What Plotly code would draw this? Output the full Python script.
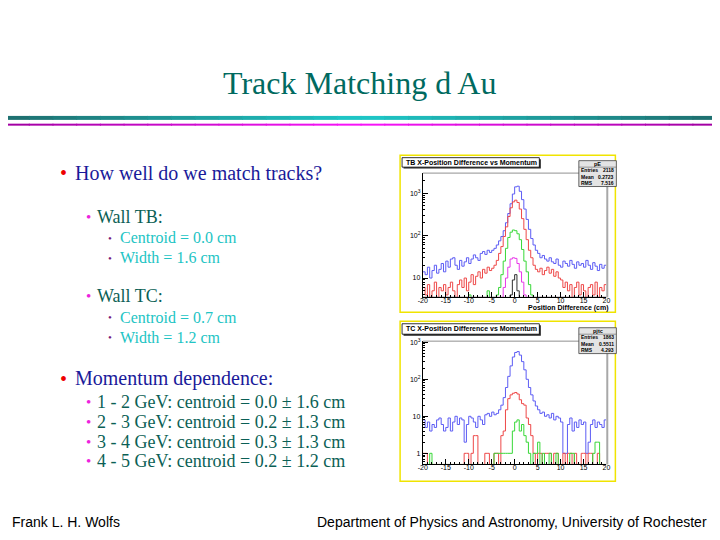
import numpy as np
import plotly.graph_objects as go

W, H = 720, 540
# the page body adds an 8 px margin, so reference pixels are shifted back by it
OX, OY = 8, 8
# larger annotations sit a few px inside their anchor point
TPAD = 4

# histogram binning (cm)
bin_lo = -20.0
bin_width = 0.5
n_bins = 80

# TB wall: counts per 0.5 cm bin, -20 .. 20 cm
tb_blue = [14, 12, 18, 10, 15, 20, 13, 16, 22, 14,
           25, 18, 28, 30, 20, 16, 26, 19, 24, 30,
           22, 28, 35, 30, 26, 38, 42, 36, 45, 40,
           45, 50, 60, 75, 95, 130, 200, 330, 560, 950,
           1400, 1450, 1100, 700, 420, 240, 140, 85, 60, 45,
           38, 30, 34, 28, 25, 30, 24, 22, 28, 20,
           18, 25, 22, 19, 26, 21, 17, 24, 20, 22,
           18, 26, 20, 16, 23, 19, 15, 21, 17, 20]
tb_red = [6, 4, 7, 2, 5, 8, 3, 6, 5, 7,
          4, 6, 8, 5, 3, 7, 9, 6, 10, 5,
          8, 12, 7, 11, 14, 10, 16, 13, 18, 15,
          17, 20, 26, 38, 55, 95, 160, 280, 450, 620,
          680, 600, 420, 250, 140, 80, 45, 30, 20, 16,
          14, 17, 12, 15, 18, 13, 16, 11, 14, 10,
          9, 6, 8, 5, 7, 3, 6, 8, 4, 7,
          5, 2, 6, 7, 4, 8, 3, 6, 5, 7]
tb_green = [0, 0, 0, 0, 0, 0, 0, 0, 0, 0,
            0, 0, 0, 0, 0, 0, 0, 0, 0, 0,
            4, 0, 0, 0, 0, 0, 0, 0, 5, 0,
            0, 2, 4, 6, 12, 25, 50, 90, 120, 135,
            130, 110, 80, 47, 25, 14, 7, 4, 2, 0,
            0, 0, 0, 0, 0, 0, 0, 0, 0, 0,
            0, 0, 0, 0, 0, 0, 0, 0, 0, 0,
            0, 0, 0, 0, 0, 0, 0, 0, 0, 0]
tb_magenta = [0] * 34 + [3, 6, 10, 18, 28, 30, 29, 22, 14, 8, 4, 2] + [0] * 34
tb_black = [0] * 38 + [4, 9, 12, 5, 2] + [0] * 37

# TC wall
tc_blue = [8, 5, 7, 4, 6, 5, 8, 9, 6, 4,
           5, 9, 4, 7, 10, 6, 9, 8, 2, 6,
           10, 9, 7, 5, 10, 8, 6, 11, 12, 10,
           13, 11, 12, 15, 20, 32, 60, 120, 230, 400,
           530, 560, 450, 300, 180, 100, 60, 38, 26, 19,
           15, 12, 13, 10, 11, 9, 12, 8, 10, 9,
           7, 1, 1, 6, 9, 4, 7, 5, 8, 6,
           7, 1, 2, 6, 8, 5, 7, 6, 5, 8]
tc_red = [1, 1, 0, 0, 0, 0, 0, 0, 0, 0,
          0, 0, 0, 0, 0, 0, 0, 0, 1, 1,
          0, 1, 3, 3, 0, 0, 0, 1, 1, 0,
          0, 1, 1, 0, 3, 4, 15, 30, 38, 42,
          44, 40, 28, 22, 20, 9, 6, 3, 1, 0,
          1, 1, 0, 1, 1, 1, 0, 1, 1, 0,
          0, 1, 0, 1, 1, 0, 1, 0, 0, 1,
          1, 0, 1, 1, 0, 0, 1, 0, 0, 0]
tc_green = [0, 0, 0, 1, 0, 0, 0, 0, 0, 0,
            0, 0, 0, 0, 0, 0, 0, 0, 0, 0,
            0, 0, 0, 0, 0, 0, 0, 0, 0, 0,
            0, 1, 1, 1, 1, 1, 1, 1, 1, 4,
            7, 8, 4, 6, 3, 2, 1, 0, 1, 1,
            2, 0, 1, 0, 0, 1, 0, 0, 1, 0,
            0, 0, 0, 0, 1, 1, 0, 0, 0, 0,
            0, 0, 0, 0, 1, 2, 2, 0, 0, 0]

tb_stats = ["pE", "2118", "0.2723", "7.516"]
tc_stats = ["pjtc", "1863", "0.5511", "4.293"]

x_tick_vals = [-20, -15, -10, -5, 0, 5, 10, 15, 20]
x_tick_text = ["-20", "-15", "-10", "-5", "0", "5", "10", "15", "20"]
tb_y_vals = [10, 100, 1000]
tb_y_text = ["10", "10<sup>2</sup>", "10<sup>3</sup>"]
tc_y_vals = [1, 10, 100, 1000]
tc_y_text = ["1", "10", "10<sup>2</sup>", "10<sup>3</sup>"]

bullets = [
    ("How well do we match tracks?", 1),
    ("Wall TB:", 2),
    ("Centroid = 0.0 cm", 3),
    ("Width = 1.6 cm", 3),
    ("Wall TC:", 2),
    ("Centroid = 0.7 cm", 3),
    ("Width = 1.2 cm", 3),
    ("Momentum dependence:", 1),
    ("1 - 2 GeV: centroid = 0.0 ± 1.6 cm", 2),
    ("2 - 3 GeV: centroid = 0.2 ± 1.3 cm", 2),
    ("3 - 4 GeV: centroid = 0.3 ± 1.3 cm", 2),
    ("4 - 5 GeV: centroid = 0.2 ± 1.2 cm", 2),
]
bullet_y = [171, 215, 236, 256, 295, 316, 336, 378, 401, 421, 441, 461]

SERIF = "Liberation Serif"
SANS = "Liberation Sans"
BLUE, RED, GREEN, MAGENTA, BLACK = "#5c5cf4", "#ee4848", "#38d838", "#e838e8", "#303030"


def fx(x):
    return (x - OX) / W


def fy(y):
    return 1 - (y - OY) / H


def step(counts, floor):
    c = np.maximum(np.asarray(counts, dtype=float), floor)
    return np.append(c, c[-1])


def text(s, x, y, size, color, family=SANS, anchor="left", pad=TPAD):
    shift = {"left": -pad, "right": pad, "center": -pad * 0.75}[anchor]
    return dict(text=s, x=fx(x + shift), y=fy(y), xref="paper", yref="paper", showarrow=False,
                xanchor=anchor, yanchor="middle", borderpad=0, borderwidth=0,
                font=dict(family=family, size=size, color=color))


def rect(x0, y0, x1, y1, **kw):
    return dict(type="rect", xref="paper", yref="paper", x0=fx(x0), x1=fx(x1),
                y0=fy(y1), y1=fy(y0), **kw)


edges = bin_lo + bin_width * np.arange(n_bins + 1)

fig = go.Figure()
tb_floor, tc_floor = 3.5, 0.5
for counts, col in [(tb_blue, BLUE), (tb_red, RED), (tb_green, GREEN),
                    (tb_magenta, MAGENTA), (tb_black, BLACK)]:
    fig.add_trace(go.Scatter(x=edges, y=step(counts, tb_floor), mode="lines",
                             line=dict(color=col, width=1, shape="hv"),
                             xaxis="x", yaxis="y", hoverinfo="skip", showlegend=False))
for counts, col in [(tc_blue, BLUE), (tc_red, RED), (tc_green, GREEN)]:
    fig.add_trace(go.Scatter(x=edges, y=step(counts, tc_floor), mode="lines",
                             line=dict(color=col, width=1, shape="hv"),
                             xaxis="x2", yaxis="y2", hoverinfo="skip", showlegend=False))

fx0, fx1 = 423, 609
frames = {"tb": (171, 296), "tc": (340, 464)}

axis_font = dict(family=SANS, size=7, color="black")
xcommon = dict(range=[-20, 20], tickvals=x_tick_vals, ticktext=x_tick_text,
               ticks="inside", ticklen=5, tickcolor="black", showline=True,
               linecolor="black", linewidth=1, showgrid=False, zeroline=False,
               tickfont=axis_font, fixedrange=True, ticklabelstandoff=-4,
               minor=dict(ticks="inside", ticklen=2.5, dtick=1, tickcolor="black"))
ycommon = dict(type="log", ticks="inside", ticklen=5, tickcolor="black",
               showline=True, linecolor="black", linewidth=1, showgrid=False,
               zeroline=False, tickfont=axis_font, fixedrange=True)

tb_minor = [m * 10 ** e for e in range(0, 4) for m in range(2, 10)]
tc_minor = [m * 10 ** e for e in range(-1, 4) for m in range(2, 10)]

fig.update_layout(
    width=W, height=H, margin=dict(l=0, r=0, t=0, b=0),
    paper_bgcolor="white", plot_bgcolor="white",
    xaxis=dict(domain=[fx(fx0), fx(fx1)], anchor="y", **xcommon),
    yaxis=dict(domain=[fy(296), fy(171)], anchor="x",
               range=[np.log10(tb_floor), 3.47], tickvals=tb_y_vals, ticktext=tb_y_text,
               minor=dict(ticks="inside", ticklen=2.5, tickvals=tb_minor, tickcolor="black"),
               **ycommon),
    xaxis2=dict(domain=[fx(fx0), fx(fx1)], anchor="y2", **xcommon),
    yaxis2=dict(domain=[fy(464), fy(340)], anchor="x2",
                range=[np.log10(tc_floor), 3.03], tickvals=tc_y_vals, ticktext=tc_y_text,
                minor=dict(ticks="inside", ticklen=2.5, tickvals=tc_minor, tickcolor="black"),
                **ycommon),
)

shapes = []
annots = []

# title rules: teal band with lighter middle, magenta below
nseg = 30
for i in range(nseg):
    t = abs((i + 0.5) / nseg - 0.5) * 2
    teal = "rgb(%d,%d,%d)" % (30, int(200 - 90 * t), int(200 - 90 * t))
    mag = "rgb(%d,%d,%d)" % (int(250 - 90 * t), int(20 * (1 - t)), int(250 - 90 * t))
    xa, xb = i * W / nseg, (i + 1) * W / nseg + 1
    shapes.append(rect(xa, 113.5, xb, 117.5, line=dict(width=0), fillcolor=teal))
    shapes.append(rect(xa, 121.3, xb, 123.3, line=dict(width=0), fillcolor=mag))

annots.append(text("Track Matching d Au", 362, 80, 32, "#006a60", SERIF, "center"))

# histogram panels
panels = [(153, 311, 155.5, 165, "TB X-Position Difference vs Momentum", 158.5, tb_stats),
          (320, 481, 322.5, 333, "TC X-Position Difference vs Momentum", 326.5, tc_stats)]
for (cy0, cy1, ty0, ty1, ttl, sy0, stats), key in zip(panels, ["tb", "tc"]):
    fy0, fy1 = frames[key]
    shapes.append(rect(400, cy0, 618, cy1, line=dict(color="#f0e400", width=1.5), layer="below"))
    # frame top and shaded right side
    shapes.append(dict(type="line", xref="paper", yref="paper", x0=fx(fx0), x1=fx(fx1),
                       y0=fy(fy0), y1=fy(fy0), line=dict(color="#909090", width=1)))
    shapes.append(dict(type="line", xref="paper", yref="paper", x0=fx(fx1 + 0.8), x1=fx(fx1 + 0.8),
                       y0=fy(fy1), y1=fy(fy0), line=dict(color="#a8a8a8", width=2)))
    # title box with shadow
    shapes.append(rect(403.5, ty0 + 1.5, 542.5, ty1 + 1.5, line=dict(width=0), fillcolor="#202020"))
    shapes.append(rect(402, ty0, 541, ty1, line=dict(color="black", width=0.8), fillcolor="white"))
    annots.append(text("<b>%s</b>" % ttl, 406, (ty0 + ty1) / 2, 7, "black", pad=0))
    # stats box
    sy1 = sy0 + 26
    shapes.append(rect(581, sy0, 619, sy1, line=dict(color="#404040", width=0.8), fillcolor="#e4e4e4"))
    shapes.append(dict(type="line", xref="paper", yref="paper", x0=fx(581), x1=fx(619),
                       y0=fy(sy0 + 6.5), y1=fy(sy0 + 6.5), line=dict(color="#606060", width=0.6)))
    annots.append(text("<b>%s</b>" % stats[0], 600, sy0 + 3.3, 5.5, "black", anchor="center", pad=0))
    for k, lab in enumerate(["Entries", "Mean", "RMS"]):
        yy = sy0 + 9.8 + 6.5 * k
        annots.append(text("<b>%s</b>" % lab, 583, yy, 5, "black", pad=0))
        annots.append(text("<b>%s</b>" % stats[k + 1], 617, yy, 5, "black", anchor="right", pad=0))

annots.append(text("<b>Position Difference (cm)</b>", 612, 306.5, 7, "black", anchor="right", pad=0))

# bullet text on the left
styles = {1: (62, 75, "#ee0000", 20, "#1a1a9a", 20),
          2: (87, 97, "#ee22dd", 15, "#0b5f55", 18),
          3: (109, 120, "#7a1a7a", 11, "#22c4c4", 16)}
for (txt, lvl), yy in zip(bullets, bullet_y):
    bx, tx, bcol, bsize, tcol, tsize = styles[lvl]
    annots.append(text("•", bx, yy, bsize, bcol, SERIF, "center"))
    annots.append(text(txt, tx, yy, tsize, tcol, SERIF))

annots.append(text("Frank L. H. Wolfs", 11, 522, 14, "black"))
annots.append(text("Department of Physics and Astronomy, University of Rochester", 707, 522, 14,
                   "black", anchor="right"))

fig.update_layout(shapes=shapes, annotations=annots)
fig.write_html("out.html")
